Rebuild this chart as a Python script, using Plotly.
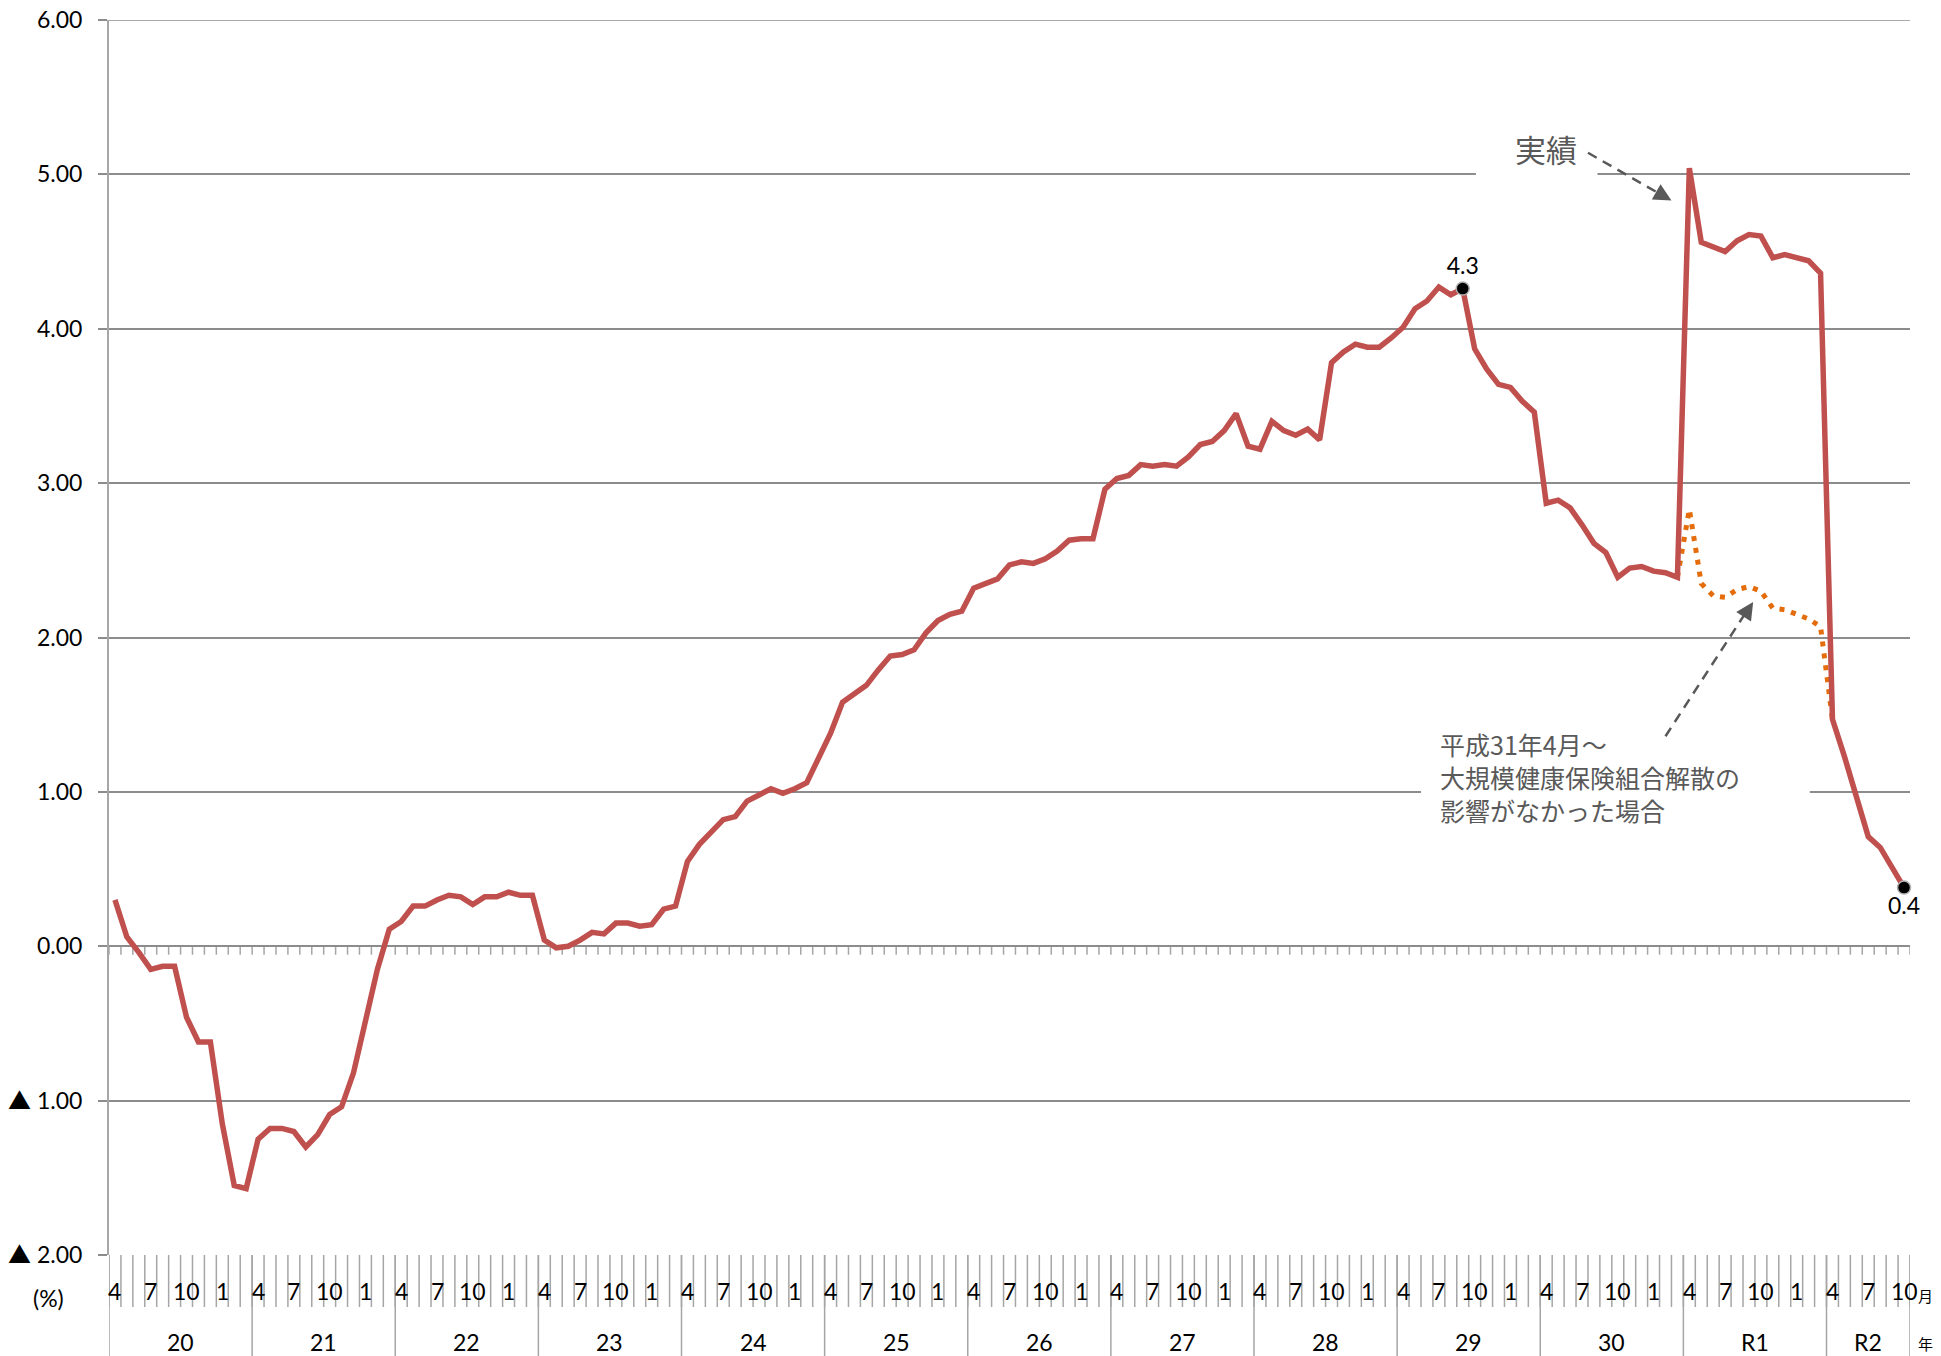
import plotly.graph_objects as go

# ---------------- data ----------------
fiscal_years = ["20", "21", "22", "23", "24", "25", "26", "27", "28", "29", "30", "R1", "R2"]
fiscal_months = [4, 5, 6, 7, 8, 9, 10, 11, 12, 1, 2, 3]
month_label_set = [4, 7, 10, 1]

h20 = [0.30, 0.06, -0.04, -0.15, -0.13, -0.13, -0.46, -0.62, -0.62, -1.15, -1.55, -1.57]
h21 = [-1.25, -1.18, -1.18, -1.20, -1.30, -1.22, -1.09, -1.04, -0.82, -0.50, -0.15, 0.11]
h22 = [0.16, 0.26, 0.26, 0.30, 0.33, 0.32, 0.27, 0.32, 0.32, 0.35, 0.33, 0.33]
h23 = [0.04, -0.01, 0.00, 0.04, 0.09, 0.08, 0.15, 0.15, 0.13, 0.14, 0.24, 0.26]
h24 = [0.55, 0.66, 0.74, 0.82, 0.84, 0.94, 0.98, 1.02, 0.99, 1.02, 1.06, 1.22]
h25 = [1.38, 1.58, 1.64, 1.69, 1.79, 1.88, 1.89, 1.92, 2.03, 2.11, 2.15, 2.17]
h26 = [2.32, 2.35, 2.38, 2.47, 2.49, 2.48, 2.51, 2.56, 2.63, 2.64, 2.64, 2.96]
h27 = [3.03, 3.05, 3.12, 3.11, 3.12, 3.11, 3.17, 3.25, 3.27, 3.34, 3.45, 3.24]
h28 = [3.22, 3.40, 3.34, 3.31, 3.35, 3.28, 3.78, 3.85, 3.90, 3.88, 3.88, 3.94]
h29 = [4.01, 4.13, 4.18, 4.27, 4.22, 4.26, 3.87, 3.74, 3.64, 3.62, 3.53, 3.46]
h30 = [2.87, 2.89, 2.84, 2.73, 2.61, 2.55, 2.39, 2.45, 2.46, 2.43, 2.42, 2.39]
r1 = [5.04, 4.56, 4.53, 4.50, 4.57, 4.61, 4.60, 4.46, 4.48, 4.46, 4.44, 4.36]
r2 = [1.47, 1.23, 0.97, 0.71, 0.64, 0.51, 0.38]

# scenario without the dissolution of the large health insurance society (H30/3 .. R2/4)
no_dissolution_start = 131
no_dissolution = [2.39, 2.83, 2.35, 2.27, 2.26, 2.31, 2.33, 2.30, 2.19, 2.18, 2.15, 2.12, 2.07, 1.47]

highlight_idx = [113, 150]

y_ticks = [6, 5, 4, 3, 2, 1, 0, -1, -2]
y_tick_text = ["6.00", "5.00", "4.00", "3.00", "2.00", "1.00", "0.00", "▲ 1.00", "▲ 2.00"]

note_lines = ["平成31年4月～", "大規模健康保険組合解散の", "影響がなかった場合"]

# ---------------- build ----------------
actual = h20 + h21 + h22 + h23 + h24 + h25 + h26 + h27 + h28 + h29 + h30 + r1 + r2
n = len(actual)
xs = list(range(n))
nd_x = list(range(no_dissolution_start, no_dissolution_start + len(no_dissolution)))

RED = "#C0504D"
ORANGE = "#E46C0A"
GRID = "#8c8c8c"
TICK = "#a6a6a6"
TXT_GRAY = "#595959"
FONT = "Lato, 'Noto Sans CJK JP', sans-serif"
JP = "'Noto Sans CJK JP', sans-serif"

fig = go.Figure()

fig.add_trace(go.Scatter(
    x=nd_x, y=no_dissolution, mode="lines",
    line=dict(color=ORANGE, width=5, dash="5px,7px"),
    hoverinfo="skip", showlegend=False))

fig.add_trace(go.Scatter(
    x=xs, y=actual, mode="lines",
    line=dict(color=RED, width=5.5),
    showlegend=False))

fig.add_trace(go.Scatter(
    x=highlight_idx, y=[actual[i] for i in highlight_idx],
    mode="markers+text",
    text=[f"{actual[i]:.1f}" for i in highlight_idx],
    textposition=["top center", "bottom center"],
    textfont=dict(family=FONT, size=23, color="black"),
    marker=dict(color="black", size=13, line=dict(color="#b0b0b0", width=1.5)),
    cliponaxis=False, showlegend=False))

shapes = []
annotations = []

# plot area occupies 1235 px vertically; offsets below it are expressed in paper units
PLOT_H = 1235.0

# top gridline (range edge)
shapes.append(dict(type="line", xref="paper", yref="y", x0=-9 / 1801, x1=1, y0=6, y1=6,
                   line=dict(color=GRID, width=1.6), layer="below"))

# short month ticks on the zero line
p = ""
for k in range(n + 1):
    xk = k - 0.5
    p += f"M{xk},0 L{xk},-0.055 "
shapes.append(dict(type="path", path=p, xref="x", yref="y", layer="below",
                   line=dict(color=TICK, width=1.5)))

# bottom month separators (short) and year separators (long)
sep_short = -52 / PLOT_H
sep_long = -110 / PLOT_H
p = ""
for k in range(n + 1):
    xk = k - 0.5
    p += f"M{xk},0 L{xk},{sep_short} "
shapes.append(dict(type="path", path=p, xref="x", yref="paper",
                   line=dict(color=TICK, width=1.5)))
year_bounds = list(range(0, n, 12)) + [n]
p = ""
for k in year_bounds:
    xk = k - 0.5
    p += f"M{xk},0 L{xk},{sep_long} "
shapes.append(dict(type="path", path=p, xref="x", yref="paper",
                   line=dict(color=TICK, width=1.5)))

# month labels
for i in range(n):
    m = fiscal_months[i % 12]
    if m in month_label_set:
        annotations.append(dict(x=i, y=-36 / PLOT_H, xref="x", yref="paper", text=str(m),
                                showarrow=False, font=dict(family=FONT, size=23, color="black"),
                                xanchor="center", yanchor="middle"))
# year labels
for j, lab in enumerate(fiscal_years):
    s = year_bounds[j]
    e = year_bounds[j + 1]
    annotations.append(dict(x=(s + e - 1) / 2, y=-87 / PLOT_H, xref="x", yref="paper", text=lab,
                            showarrow=False, font=dict(family=FONT, size=23, color="black"),
                            xanchor="center", yanchor="middle"))

annotations.append(dict(x=-61 / 1801, y=-43 / PLOT_H, xref="paper", yref="paper", text="(%)",
                        showarrow=False, font=dict(family=FONT, size=23, color="black"),
                        xanchor="center", yanchor="middle"))
annotations.append(dict(x=1.0035, y=-40 / PLOT_H, xref="paper", yref="paper", text="月",
                        showarrow=False, font=dict(family=JP, size=15, color="black"),
                        xanchor="left", yanchor="middle"))
annotations.append(dict(x=1.0035, y=-88 / PLOT_H, xref="paper", yref="paper", text="年",
                        showarrow=False, font=dict(family=JP, size=15, color="black"),
                        xanchor="left", yanchor="middle"))

# white gaps in gridlines behind callout texts
shapes.append(dict(type="rect", xref="x", yref="y", x0=114.1, x1=124.3, y0=4.9, y1=5.1,
                   fillcolor="white", line=dict(width=0), layer="above"))
shapes.append(dict(type="rect", xref="x", yref="y", x0=109.5, x1=142.1, y0=0.95, y1=1.05,
                   fillcolor="white", line=dict(width=0), layer="above"))

# dashed callout arrows
shapes.append(dict(type="line", xref="x", yref="y", x0=123.5, y0=5.14, x1=129.6, y1=4.87,
                   line=dict(color=TXT_GRAY, width=2.5, dash="10px,7px"), layer="above"))
shapes.append(dict(type="line", xref="x", yref="y", x0=130.0, y0=1.36, x1=136.8, y1=2.17,
                   line=dict(color=TXT_GRAY, width=2.5, dash="10px,7px"), layer="above"))

annotations.append(dict(x=130.5, y=4.83, xref="x", yref="y", text="", showarrow=True,
                        ax=-14, ay=-8, arrowhead=2, arrowsize=1.6, arrowwidth=2.2,
                        arrowcolor=TXT_GRAY))
annotations.append(dict(x=137.35, y=2.23, xref="x", yref="y", text="", showarrow=True,
                        ax=-8.5, ay=13.2, arrowhead=2, arrowsize=1.6, arrowwidth=2.2,
                        arrowcolor=TXT_GRAY))

annotations.append(dict(x=120.0, y=5.17, xref="x", yref="y", text="実績", showarrow=False,
                        font=dict(family=JP, size=31, color=TXT_GRAY),
                        xanchor="center", yanchor="middle"))
for k, line in enumerate(note_lines):
    annotations.append(dict(x=111.05, y=1.31 - 0.214 * k, xref="x", yref="y",
                            text=line, showarrow=False, align="left",
                            font=dict(family=JP, size=25, color=TXT_GRAY),
                            xanchor="left", yanchor="middle", borderpad=0))

# page body has an 8px margin: figure is 1933x1348 so the plot area lands at x 109-1910, y 20-1255
fig.update_layout(
    width=1933, height=1348,
    margin=dict(l=101, r=31, t=12, b=101),
    paper_bgcolor="white", plot_bgcolor="white",
    font=dict(family=FONT, size=22, color="black"),
    shapes=shapes, annotations=annotations,
    xaxis=dict(range=[-0.5, n - 0.5], showticklabels=False, showgrid=False,
               zeroline=False, showline=False, ticks="", automargin=False),
    yaxis=dict(range=[-2, 6], tickvals=y_ticks, ticktext=y_tick_text,
               showgrid=True, gridcolor=GRID, gridwidth=1.6,
               zeroline=False, showline=True, linecolor=TICK, linewidth=2,
               ticks="outside", ticklen=9, tickcolor=GRID, tickwidth=1.6,
               tickfont=dict(family=FONT, size=23, color="black"),
               ticklabelstandoff=11, ticklabeloverflow="allow", automargin=False),
)

fig.write_html("out.html")
